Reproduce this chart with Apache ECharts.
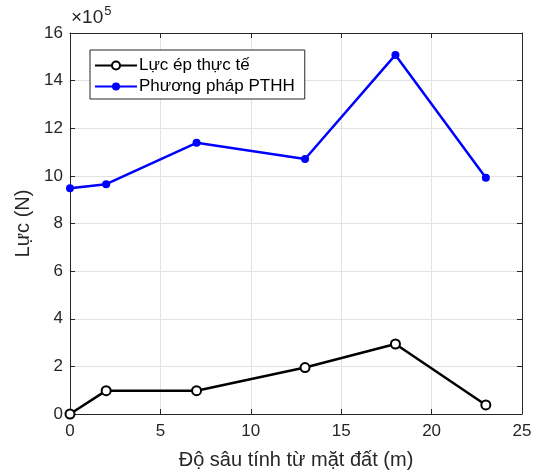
<!DOCTYPE html>
<html>
<head>
<meta charset="utf-8">
<script src="https://cdn.jsdelivr.net/npm/echarts@6/dist/echarts.min.js"></script>
<style>
  html, body { margin: 0; padding: 0; background: #fff; }
  #chart { width: 537px; height: 473px; }
</style>
</head>
<body>
<div id="chart"></div>
<script>
// độ sâu (m)
var depth = [0, 2, 7, 13, 18, 23];
// lực (N)
var lucEpThucTe = [0, 98000, 98000, 195000, 294000, 38000];
var phuongPhapPTHH = [948000, 965000, 1139000, 1071000, 1508000, 992000];
var xTicks = [0, 5, 10, 15, 20, 25];
var yTicks = [0, 2, 4, 6, 8, 10, 12, 14, 16]; // x 10^5

var textColor = '#262626';
var font = 'Liberation Sans';

function pairs(xs, ys) {
    var out = [];
    for (var i = 0; i < xs.length; i++) out.push([xs[i], ys[i]]);
    return out;
}

var chart = echarts.init(document.getElementById('chart'));
chart.setOption({
    animation: false,
    textStyle: { fontFamily: font },
    grid: { left: 70, right: 15, top: 33, bottom: 59, containLabel: false, outerBoundsMode: 'none' },
    graphic: [
        {
            type: 'text', left: 71, top: 5,
            style: {
                text: '{a|×10}{b|5}',
                rich: {
                    a: { fontSize: 19, fill: textColor, fontFamily: font },
                    b: { fontSize: 13, fill: textColor, fontFamily: font, verticalAlign: 'top', padding: [0, 0, 12, 1] }
                }
            }
        }
    ],
    legend: {
        orient: 'vertical',
        left: 90, top: 50,
        backgroundColor: '#fff',
        borderColor: textColor,
        borderWidth: 1,
        borderRadius: 0,
        padding: [7, 10, 4, 4],
        itemWidth: 42,
        itemHeight: 10,
        itemGap: 4,
        textStyle: { fontSize: 17, color: '#000', fontFamily: font, padding: [0, 0, 0, -3] },
        data: ['Lực ép thực tế', 'Phương pháp PTHH']
    },
    xAxis: [
        {
            type: 'value', min: 0, max: 25, interval: 5,
            name: 'Độ sâu tính từ mặt đất (m)',
            nameLocation: 'middle', nameGap: 36,
            nameTextStyle: { fontSize: 20, color: textColor },
            axisLine: { onZero: false, lineStyle: { color: textColor, width: 1 } },
            axisTick: { inside: true, length: 5, lineStyle: { color: textColor } },
            axisLabel: { fontSize: 17, color: textColor, margin: 9,
                formatter: function (v) { return xTicks.indexOf(v) >= 0 ? String(v) : ''; } },
            splitLine: { show: true, lineStyle: { color: '#e3e3e3', width: 1 } }
        },
        {
            type: 'value', min: 0, max: 25, interval: 5, position: 'top',
            axisLine: { show: true, onZero: false, lineStyle: { color: textColor, width: 1 } },
            axisTick: { inside: true, length: 5, lineStyle: { color: textColor } },
            axisLabel: { show: false }, splitLine: { show: false }
        }
    ],
    yAxis: [
        {
            type: 'value', min: 0, max: 1600000, interval: 200000,
            name: 'Lực (N)',
            nameLocation: 'middle', nameGap: 34, nameRotate: 90,
            nameTextStyle: { fontSize: 20, color: textColor },
            axisLine: { show: true, onZero: false, lineStyle: { color: textColor, width: 1 } },
            axisTick: { show: true, inside: true, length: 5, lineStyle: { color: textColor } },
            axisLabel: { fontSize: 17, color: textColor, margin: 7,
                formatter: function (v) { return String(yTicks[Math.round(v / 200000)]); } },
            splitLine: { show: true, lineStyle: { color: '#e3e3e3', width: 1 } }
        },
        {
            type: 'value', min: 0, max: 1600000, interval: 200000, position: 'right',
            axisLine: { show: true, onZero: false, lineStyle: { color: textColor, width: 1 } },
            axisTick: { show: true, inside: true, length: 5, lineStyle: { color: textColor } },
            axisLabel: { show: false }, splitLine: { show: false }
        }
    ],
    series: [
        {
            name: 'Lực ép thực tế',
            type: 'line',
            data: pairs(depth, lucEpThucTe),
            symbol: 'emptyCircle', symbolSize: 9,
            lineStyle: { color: '#000', width: 2.5 },
            itemStyle: { color: '#000', borderColor: '#000', borderWidth: 2 },
            z: 3
        },
        {
            name: 'Phương pháp PTHH',
            type: 'line',
            data: pairs(depth, phuongPhapPTHH),
            symbol: 'circle', symbolSize: 8,
            lineStyle: { color: '#0000ff', width: 2.5 },
            itemStyle: { color: '#0000ff' },
            z: 3
        }
    ]
});
</script>
</body>
</html>
